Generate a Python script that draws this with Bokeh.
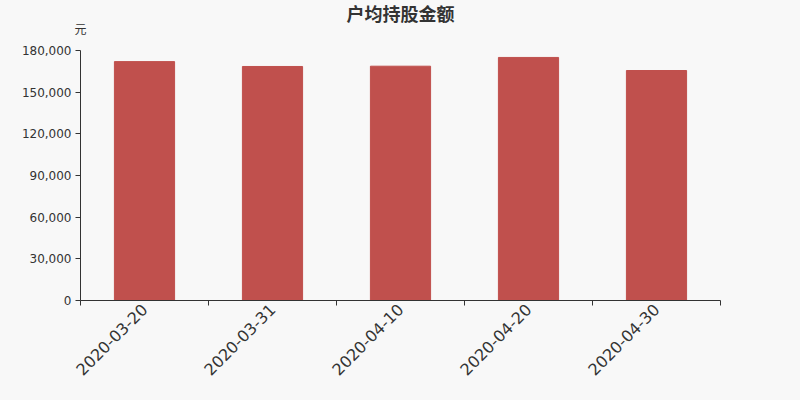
import math
from bokeh.plotting import figure
from bokeh.models import (ColumnDataSource, Range1d, FixedTicker, NumeralTickFormatter, Title)
from bokeh.embed import file_html
from bokeh.resources import INLINE

# data
dates = ["2020-03-20", "2020-03-31", "2020-04-10", "2020-04-20", "2020-04-30"]
values = [172000, 168500, 168700, 175000, 165600]
y_ticks = [0, 30000, 60000, 90000, 120000, 150000, 180000]
title_text = "户均持股金额"
unit_text = "元"

BG = "#f8f8f8"
TXT = "#333333"
BAR = "#c0504d"

xs = [i + 0.5 for i in range(len(dates))]
src = ColumnDataSource(dict(x=xs, top=values, date=dates))

p = figure(width=800, height=400, output_backend="svg", toolbar_location=None,
           x_range=Range1d(0, len(dates)), y_range=Range1d(0, y_ticks[-1]),
           min_border_left=80, min_border_right=80, min_border_top=0, min_border_bottom=100)
p.background_fill_color = BG
p.border_fill_color = BG
p.outline_line_color = None
p.grid.grid_line_color = None

p.vbar(x="x", top="top", width=0.47, source=src, fill_color=BAR, line_color=BAR)

# x axis: labels at category centers, small ticks at boundaries
xa = p.xaxis[0]
xa.ticker = FixedTicker(ticks=xs, minor_ticks=list(range(len(dates) + 1)))
xa.major_label_overrides = {x: d for x, d in zip(xs, dates)}
xa.major_label_orientation = math.pi / 4
xa.major_tick_out = 0
xa.major_tick_in = 0
xa.minor_tick_out = 5
xa.minor_tick_in = 0
xa.minor_tick_line_color = TXT
xa.axis_line_color = TXT
xa.major_label_text_font = "DejaVu Sans"
xa.major_label_text_font_size = "16px"
xa.major_label_text_color = TXT
xa.major_label_standoff = 1

ya = p.yaxis[0]
ya.ticker = FixedTicker(ticks=y_ticks)
ya.formatter = NumeralTickFormatter(format="0,0")
ya.major_tick_out = 5
ya.major_tick_in = 0
ya.minor_tick_line_color = None
ya.major_tick_line_color = TXT
ya.axis_line_color = TXT
ya.major_label_text_font = "DejaVu Sans"
ya.major_label_text_font_size = "12px"
ya.major_label_text_color = TXT
ya.major_label_standoff = 4

# main title (outermost panel)
p.title.text = title_text
p.title.align = "center"
p.title.vertical_align = "bottom"
p.title.text_font = "Noto Sans CJK SC"
p.title.text_font_size = "18px"
p.title.text_font_style = "bold"
p.title.text_color = TXT
p.title.standoff = -6

# spacer next to the frame, then the unit label above it
spacer = Title(text=" ", align="left", text_font="Noto Sans CJK SC", text_font_size="12px",
               text_color=BG, standoff=-4)
p.add_layout(spacer, "above")
unit = Title(text=unit_text, align="left", vertical_align="top", offset=-6,
             text_font="Noto Sans CJK SC", text_font_size="12px", text_font_style="normal",
             text_color=TXT, standoff=-6)
p.add_layout(unit, "above")

html = file_html(p, INLINE)
html = html.replace("<head>", "<head><style>html,body{background:#f8f8f8;}</style>", 1)
open("out.html", "w").write(html)
